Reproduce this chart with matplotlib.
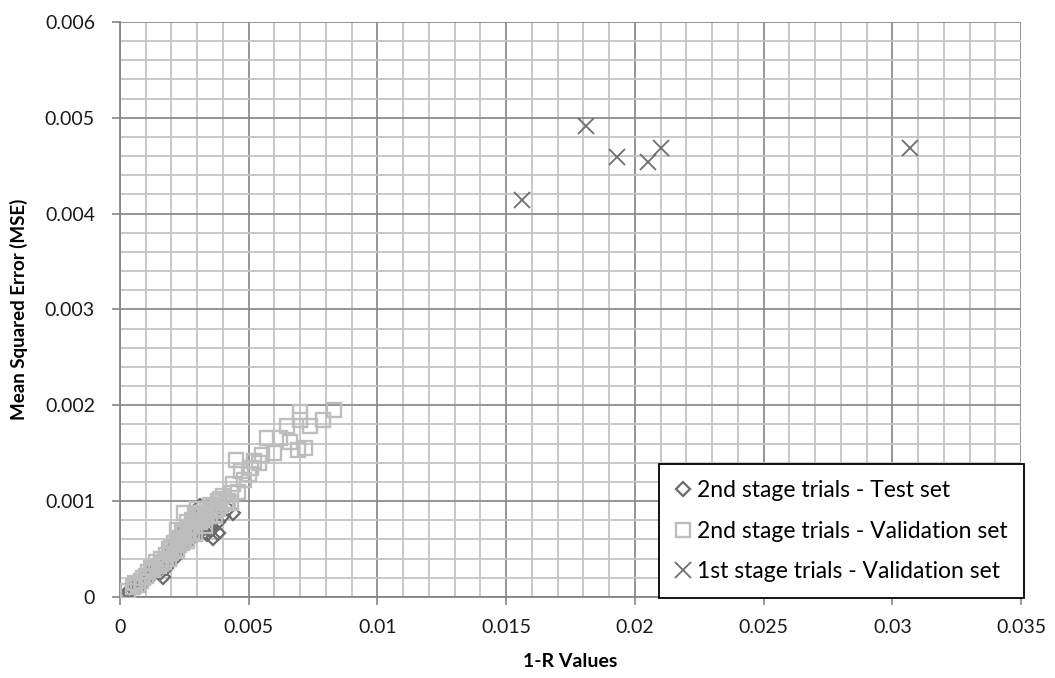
import numpy as np
import matplotlib
matplotlib.use("Agg")
from matplotlib import pyplot as plt
from matplotlib.ticker import MultipleLocator, FuncFormatter

# 2nd stage trials - test set (1-R, MSE)
test_r = [0.00025, 0.0003, 0.0004, 0.0005, 0.0006, 0.0007, 0.0008, 0.0009,
          0.0010, 0.0011, 0.0012, 0.0013, 0.00128, 0.0014, 0.0015, 0.0016,
          0.00167, 0.0017, 0.0018, 0.0019, 0.0020, 0.0021, 0.0022, 0.0023,
          0.0023, 0.0024, 0.0025, 0.0026, 0.0026, 0.0027, 0.0028, 0.0029,
          0.0029, 0.0030, 0.0031, 0.0032, 0.0033, 0.0034, 0.0035, 0.0035,
          0.0036, 0.0036, 0.0038, 0.0038, 0.0040, 0.0042, 0.0044,
          0.0015, 0.0017, 0.0019, 0.0020, 0.0021, 0.0022, 0.0024, 0.0025,
          0.0027, 0.0028, 0.0030, 0.0031, 0.0032, 0.0033, 0.0034, 0.0018,
          0.0016, 0.0037]
test_mse = [0.00003, 0.00005, 0.00006, 0.00008, 0.00012, 0.00010, 0.00013, 0.00016,
            0.00018, 0.00025, 0.00022, 0.00024, 0.00028, 0.00030, 0.00028, 0.00033,
            0.00021, 0.00042, 0.00038, 0.00046, 0.00042, 0.00045, 0.00054, 0.00050,
            0.00065, 0.00060, 0.00056, 0.00065, 0.00075, 0.00060, 0.00072, 0.00068,
            0.00082, 0.00075, 0.00095, 0.00070, 0.00090, 0.00066, 0.00080, 0.00070,
            0.00072, 0.00062, 0.00078, 0.00067, 0.00085, 0.00092, 0.00088,
            0.00036, 0.00032, 0.00038, 0.00050, 0.00040, 0.00046, 0.00052, 0.00064,
            0.00068, 0.00062, 0.00066, 0.00072, 0.00082, 0.00076, 0.00072, 0.00030,
            0.00026, 0.00085]

# 2nd stage trials - validation set
val_r = [0.0003, 0.0005, 0.0007, 0.0008, 0.0010, 0.0012, 0.0013, 0.0015,
         0.0016, 0.0017, 0.0018, 0.0019, 0.0020, 0.0021, 0.0022, 0.0022,
         0.0023, 0.0024, 0.0025, 0.0025, 0.0025, 0.0026, 0.0027, 0.0028,
         0.0028, 0.0029, 0.0029, 0.0030, 0.0031, 0.0032, 0.0033, 0.0034,
         0.0035, 0.0036, 0.0037, 0.0038, 0.0039, 0.0040, 0.0042, 0.0043,
         0.0044, 0.0045, 0.0046, 0.0047, 0.0048, 0.0050, 0.0051, 0.0052,
         0.0054, 0.0055, 0.0057, 0.0060, 0.0062, 0.0065, 0.0066, 0.0069,
         0.0070, 0.0070, 0.0072, 0.0074, 0.0079, 0.0083,
         0.0016, 0.0018, 0.0019, 0.0020, 0.0021, 0.0022, 0.0023, 0.0024,
         0.0024, 0.0026, 0.0026, 0.0027, 0.0028, 0.0029, 0.0030, 0.0030,
         0.0031, 0.0032, 0.0033, 0.0034, 0.0035, 0.0037, 0.0038, 0.0039,
         0.0041, 0.0043, 0.0011, 0.0014, 0.0009, 0.0006]
val_mse = [0.00006, 0.00010, 0.00012, 0.00017, 0.00022, 0.00030, 0.00028, 0.00032,
           0.00040, 0.00036, 0.00040, 0.00050, 0.00046, 0.00050, 0.00058, 0.00070,
           0.00054, 0.00062, 0.00058, 0.00070, 0.00088, 0.00064, 0.00072, 0.00068,
           0.00080, 0.00074, 0.00088, 0.00084, 0.00078, 0.00088, 0.00082, 0.00092,
           0.00086, 0.00095, 0.00090, 0.00100, 0.00095, 0.00105, 0.00100, 0.00108,
           0.00118, 0.00143, 0.00110, 0.00131, 0.00122, 0.00128, 0.00135, 0.00142,
           0.00140, 0.00148, 0.00166, 0.00150, 0.00166, 0.00178, 0.00162, 0.00153,
           0.00193, 0.00185, 0.00155, 0.00178, 0.00185, 0.00195,
           0.00034, 0.00044, 0.00040, 0.00052, 0.00056, 0.00048, 0.00062, 0.00056,
           0.00068, 0.00058, 0.00078, 0.00066, 0.00074, 0.00066, 0.00078, 0.00092,
           0.00086, 0.00080, 0.00074, 0.00084, 0.00096, 0.00084, 0.00092, 0.00102,
           0.00098, 0.00098, 0.00026, 0.00036, 0.00020, 0.00015]

# 1st stage trials - validation set
first_r = [0.0156, 0.0181, 0.0193, 0.0205, 0.0210, 0.0307]
first_mse = [0.00414, 0.00491, 0.00459, 0.00454, 0.00469, 0.00469]

x_ticks = [0, 0.005, 0.01, 0.015, 0.02, 0.025, 0.03, 0.035]
y_ticks = [0, 0.001, 0.002, 0.003, 0.004, 0.005, 0.006]


def fmt(v, pos):
    if abs(v) < 1e-12:
        return "0"
    return ("%.3f" % v).rstrip("0")


fig = plt.figure(figsize=(10.55, 6.78), dpi=100)
ax = fig.add_axes([0.1137, 0.1195, 0.8541, 0.8481])

ax.set_xlim(0, 0.035)
ax.set_ylim(0, 0.006)
ax.set_xticks(x_ticks)
ax.set_yticks(y_ticks)
ax.xaxis.set_minor_locator(MultipleLocator(0.001))
ax.yaxis.set_minor_locator(MultipleLocator(0.0002))
ax.xaxis.set_major_formatter(FuncFormatter(fmt))
ax.yaxis.set_major_formatter(FuncFormatter(fmt))

ax.grid(which="major", color="#8c8c8c", linewidth=1.3, zorder=0)
ax.grid(which="minor", color="#c4c4c4", linewidth=1.3, zorder=0)
ax.set_axisbelow(True)

for side in ["left", "bottom"]:
    ax.spines[side].set_color("#868686")
    ax.spines[side].set_linewidth(1.3)
for side in ["top", "right"]:
    ax.spines[side].set_visible(False)

ax.tick_params(which="major", direction="out", length=6, width=1.2, color="#868686",
               labelsize=14, labelcolor="#1a1a1a")
ax.tick_params(axis="x", pad=10)
ax.tick_params(axis="y", pad=12)
ax.tick_params(which="minor", length=0)
for lbl in ax.get_xticklabels() + ax.get_yticklabels():
    lbl.set_family("Lato")

ax.plot(test_r, test_mse, linestyle="none", marker="D", markersize=7.5,
        markerfacecolor="none", markeredgecolor="#6a6a6a", markeredgewidth=1.6,
        label="2nd stage trials - Test set", zorder=3)
ax.plot(val_r, val_mse, linestyle="none", marker="s", markersize=10,
        markerfacecolor="none", markeredgecolor="#bdbdbd", markeredgewidth=1.7,
        label="2nd stage trials - Validation set", zorder=4)
ax.plot(first_r, first_mse, linestyle="none", marker="x", markersize=11,
        markeredgecolor="#6e6e6e", markeredgewidth=1.3,
        label="1st stage trials - Validation set", zorder=5)

ax.set_xlabel("1-R Values", fontsize=14, fontweight="bold", family="Lato", labelpad=12)
ax.set_ylabel("Mean Squared Error (MSE)", fontsize=13.5, fontweight="bold", family="Lato",
              labelpad=12)

leg = ax.legend(loc="lower right", bbox_to_anchor=(1.003, -0.002), fancybox=False,
                framealpha=1, edgecolor="black", handlelength=0.7, handletextpad=0.25,
                labelspacing=0.85, borderpad=0.7, borderaxespad=0,
                prop={"family": "Lato", "size": 16.5})
leg.get_frame().set_linewidth(1.3)

fig.savefig("out.png", dpi=100)
